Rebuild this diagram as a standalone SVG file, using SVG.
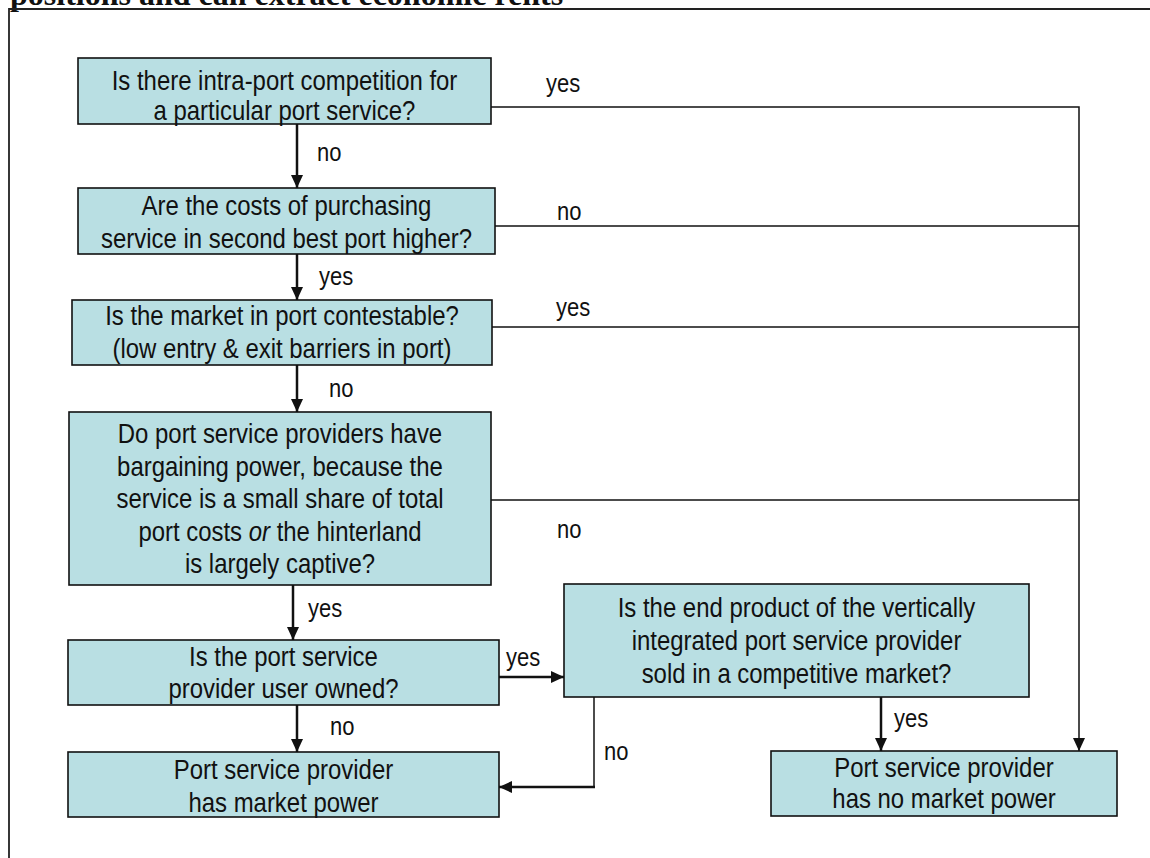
<svg xmlns="http://www.w3.org/2000/svg" width="1150" height="858" viewBox="0 0 1150 858">
<style>
.box{fill:#b9dfe3;stroke:#111;stroke-width:1.6}
.t{font-family:"Liberation Sans",Arial,sans-serif;font-size:27.5px;fill:#111;text-anchor:middle;transform-box:fill-box;transform-origin:center;transform:scaleX(0.87)}
.lbl{font-family:"Liberation Sans",Arial,sans-serif;font-size:25px;fill:#111;transform-box:fill-box;transform-origin:left;transform:scaleX(0.88)}
.ln{fill:none;stroke:#111;stroke-width:1.5}
.ar{fill:none;stroke:#111;stroke-width:2.5}
.title{font-family:"Liberation Serif","Times New Roman",serif;font-size:32px;font-weight:bold;fill:#111}
</style>
<defs>
<marker id="ah" markerUnits="userSpaceOnUse" markerWidth="14" markerHeight="14" viewBox="0 0 14 14" refX="13" refY="7" orient="auto">
<path d="M0,1 L13,7 L0,13 Z" fill="#111"/>
</marker>
</defs>
<rect width="1150" height="858" fill="#fff"/>
<text class="title" x="10" y="5">positions and can extract economic rents</text>
<path d="M9,858 V9 H1150" fill="none" stroke="#222" stroke-width="1.8"/>

<g id="connectors">
<path class="ln" d="M485,107 H1079 V751" marker-end="url(#ah)"/>
<path class="ln" d="M495,226 H1079"/>
<path class="ln" d="M492,327 H1079"/>
<path class="ln" d="M489,500 H1079"/>
<path class="ar" d="M297,124 V188" marker-end="url(#ah)"/>
<path class="ar" d="M297,254 V300" marker-end="url(#ah)"/>
<path class="ar" d="M297,365 V412" marker-end="url(#ah)"/>
<path class="ar" d="M293,585 V640" marker-end="url(#ah)"/>
<path class="ar" d="M495,677 H564" marker-end="url(#ah)"/>
<path class="ar" d="M297,705 V752" marker-end="url(#ah)"/>
<path class="ln" d="M594,697 V787"/>
<path class="ar" d="M595,787 H499" marker-end="url(#ah)"/>
<path class="ar" d="M881,697 V751" marker-end="url(#ah)"/>
<text class="lbl" x="546" y="92">yes</text>
<text class="lbl" x="317" y="161">no</text>
<text class="lbl" x="557" y="220">no</text>
<text class="lbl" x="319" y="285">yes</text>
<text class="lbl" x="556" y="316">yes</text>
<text class="lbl" x="329" y="397">no</text>
<text class="lbl" x="557" y="538">no</text>
<text class="lbl" x="308" y="617">yes</text>
<text class="lbl" x="506" y="666">yes</text>
<text class="lbl" x="330" y="735">no</text>
<text class="lbl" x="604" y="760">no</text>
<text class="lbl" x="894" y="727">yes</text>
</g>

<g id="q1">
<rect class="box" x="78" y="58" width="413" height="66"/>
<text class="t" x="284.5" y="90">Is there intra-port competition for</text>
<text class="t" x="284.5" y="120">a particular port service?</text>
</g>
<g id="q2">
<rect class="box" x="78" y="188" width="417" height="66"/>
<text class="t" x="286.5" y="215">Are the costs of purchasing</text>
<text class="t" x="286.5" y="248">service in second best port higher?</text>
</g>
<g id="q3">
<rect class="box" x="72" y="300" width="420" height="65"/>
<text class="t" x="282" y="325">Is the market in port contestable?</text>
<text class="t" x="282" y="358">(low entry &amp; exit barriers in port)</text>
</g>
<g id="q4">
<rect class="box" x="69" y="412" width="422" height="173"/>
<text class="t" x="280" y="443">Do port service providers have</text>
<text class="t" x="280" y="476">bargaining power, because the</text>
<text class="t" x="280" y="508">service is a small share of total</text>
<text class="t" x="280" y="541">port costs <tspan font-style="italic">or</tspan> the hinterland</text>
<text class="t" x="280" y="573">is largely captive?</text>
</g>
<g id="q5">
<rect class="box" x="68" y="640" width="431" height="65"/>
<text class="t" x="283.5" y="666">Is the port service</text>
<text class="t" x="283.5" y="698">provider user owned?</text>
</g>
<g id="r1">
<rect class="box" x="68" y="752" width="431" height="65"/>
<text class="t" x="283.5" y="779">Port service provider</text>
<text class="t" x="283.5" y="812">has market power</text>
</g>
<g id="q6">
<rect class="box" x="564" y="584" width="465" height="113"/>
<text class="t" x="796.5" y="617">Is the end product of the vertically</text>
<text class="t" x="796.5" y="650">integrated port service provider</text>
<text class="t" x="796.5" y="683">sold in a competitive market?</text>
</g>
<g id="r2">
<rect class="box" x="771" y="751" width="346" height="65"/>
<text class="t" x="944" y="777">Port service provider</text>
<text class="t" x="944" y="808">has no market power</text>
</g>
</svg>
